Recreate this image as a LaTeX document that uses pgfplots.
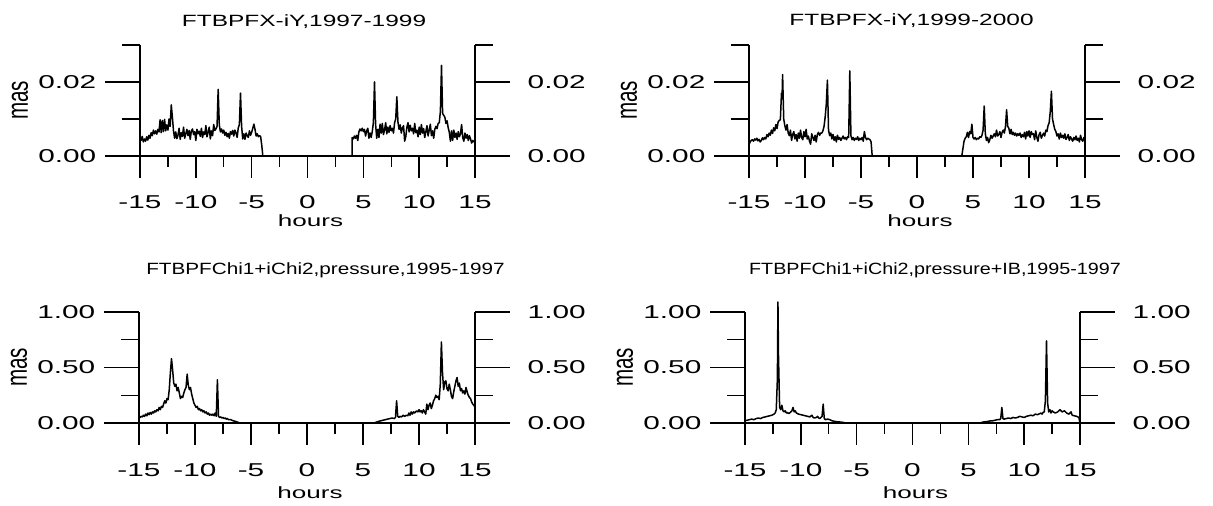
\documentclass[border=0pt]{standalone}
\usepackage{fontspec}
\usepackage{graphicx}
\usepackage{pgfplots}
\pgfplotsset{compat=1.18}
\setmainfont{Liberation Sans}
\newfontfamily\tickfont{Liberation Sans}[FakeStretch=1.6]
\newcommand\tk{\tickfont\fontsize{18.6}{20}\selectfont}
\newcommand\hr{\tickfont\fontsize{16.3}{18}\selectfont}
\newcommand\ttl[2]{\scalebox{#1}[1]{\fontsize{16.3}{18}\selectfont #2}}

\newcommand\xdeco[5]{%
\begin{scope}[shift={(#1pt,#2pt)},x=1pt,y=1pt,line width=1.4pt]
\draw (-35,0) -- ({#3+35},0);
\draw (0,0) -- (0,111) (#3,0) -- (#3,111);
\foreach \i in {0,...,6} {\draw ({\i*#3/6},0) -- ({\i*#3/6},-22);}
\foreach \i in {0,...,5} {\draw ({(\i+0.5)*#3/6},0) -- ({(\i+0.5)*#3/6},-11);}
\foreach \i/\l in {0/-15,1/-10,2/-5,3/0,4/5,5/10,6/15}
  {\node[inner sep=0pt] at ({\i*#3/6},-#4) {\tk \l};}
\node[anchor=base,inner sep=0pt] at ({#3/2+3},-#5) {\hr hours};
\node[inner sep=0pt] at (-120,55.5) {\scalebox{1.45}[1]{\rotatebox{90}{\fontsize{20.6}{22}\selectfont mas}}};
\end{scope}}

\newcommand\ydecoTop[3]{%
\begin{scope}[shift={(#1pt,#2pt)},x=1pt,y=1pt,line width=1.4pt]
\draw (-35,74) -- (0,74) (#3,74) -- ({#3+35},74);
\draw (-18,37) -- (0,37) (-18,111) -- (0,111) (#3,37) -- ({#3+18},37) (#3,111) -- ({#3+18},111);
\node[anchor=east,inner sep=0pt] at (-43,0) {\tk 0.00};
\node[anchor=east,inner sep=0pt] at (-43,74) {\tk 0.02};
\node[anchor=west,inner sep=0pt] at ({#3+52},0) {\tk 0.00};
\node[anchor=west,inner sep=0pt] at ({#3+52},74) {\tk 0.02};
\end{scope}}

\newcommand\ydecoBot[3]{%
\begin{scope}[shift={(#1pt,#2pt)},x=1pt,y=1pt,line width=1.4pt]
\draw (-35,55.5) -- (0,55.5) (#3,55.5) -- ({#3+35},55.5);
\draw (-35,111) -- (0,111) (#3,111) -- ({#3+35},111);
\draw (-18,27.75) -- (0,27.75) (-18,83.25) -- (0,83.25) (#3,27.75) -- ({#3+18},27.75) (#3,83.25) -- ({#3+18},83.25);
\node[anchor=east,inner sep=0pt] at (-43,0) {\tk 0.00};
\node[anchor=east,inner sep=0pt] at (-43,55.5) {\tk 0.50};
\node[anchor=east,inner sep=0pt] at (-43,111) {\tk 1.00};
\node[anchor=west,inner sep=0pt] at ({#3+52},0) {\tk 0.00};
\node[anchor=west,inner sep=0pt] at ({#3+52},55.5) {\tk 0.50};
\node[anchor=west,inner sep=0pt] at ({#3+52},111) {\tk 1.00};
\end{scope}}

\pgfplotsset{panel/.style={anchor=south west, scale only axis, height=111pt,
  xmin=-15, xmax=15, ymin=0, hide axis, clip=false},
  curve/.style={black, line width=1.5pt, line join=round, mark=none}}

\begin{document}
\begin{tikzpicture}
\path[use as bounding box] (0pt,0pt) rectangle (1213pt,506pt);

\begin{axis}[panel, at={(140pt,350pt)}, width=335pt, ymax=0.03]
\addplot[curve] table {
-15.0 0.0050
-14.9 0.0042
-14.8 0.0053
-14.7 0.0038
-14.6 0.0046
-14.5 0.0040
-14.4 0.0052
-14.3 0.0043
-14.2 0.0056
-14.1 0.0048
-14.0 0.0063
-13.9 0.0055
-13.8 0.0070
-13.7 0.0060
-13.6 0.0068
-13.5 0.0059
-13.4 0.0072
-13.3 0.0065
-13.2 0.0098
-13.1 0.0063
-13.0 0.0096
-12.9 0.0066
-12.8 0.0099
-12.7 0.0068
-12.6 0.0084
-12.5 0.0070
-12.4 0.0100
-12.3 0.0080
-12.2 0.0138
-12.1 0.0105
-12.0 0.0068
-11.9 0.0048
-11.8 0.0065
-11.7 0.0047
-11.6 0.0056
-11.5 0.0075
-11.4 0.0045
-11.3 0.0063
-11.2 0.0053
-11.1 0.0078
-11.0 0.0048
-10.9 0.0060
-10.8 0.0072
-10.7 0.0055
-10.6 0.0069
-10.5 0.0045
-10.4 0.0068
-10.3 0.0073
-10.2 0.0058
-10.1 0.0066
-10.0 0.0042
-9.9 0.0072
-9.8 0.0060
-9.7 0.0067
-9.6 0.0053
-9.5 0.0075
-9.4 0.0050
-9.3 0.0065
-9.2 0.0058
-9.1 0.0082
-9.0 0.0052
-8.9 0.0064
-8.8 0.0078
-8.7 0.0046
-8.6 0.0068
-8.5 0.0055
-8.4 0.0085
-8.3 0.0069
-8.2 0.0073
-8.1 0.0080
-8.0 0.0180
-7.9 0.0085
-7.8 0.0065
-7.7 0.0073
-7.6 0.0062
-7.5 0.0070
-7.4 0.0056
-7.3 0.0064
-7.2 0.0052
-7.1 0.0061
-7.0 0.0048
-6.9 0.0066
-6.8 0.0059
-6.7 0.0069
-6.6 0.0054
-6.5 0.0070
-6.4 0.0062
-6.3 0.0050
-6.2 0.0076
-6.1 0.0085
-6.0 0.0170
-5.9 0.0080
-5.8 0.0046
-5.7 0.0060
-5.6 0.0045
-5.5 0.0062
-5.4 0.0055
-5.3 0.0050
-5.2 0.0068
-5.1 0.0056
-5.0 0.0064
-4.9 0.0075
-4.8 0.0086
-4.7 0.0072
-4.6 0.0054
-4.5 0.0060
-4.4 0.0052
-4.3 0.0055
-4.2 0.0053
-4.1 0.0030
-4.0 0.0000
4.0 0.0000
4.0 0.0050
4.1 0.0046
4.2 0.0054
4.3 0.0048
4.4 0.0056
4.5 0.0042
4.6 0.0065
4.7 0.0073
4.8 0.0068
4.9 0.0075
5.0 0.0066
5.1 0.0072
5.2 0.0054
5.3 0.0068
5.4 0.0075
5.5 0.0048
5.6 0.0062
5.7 0.0050
5.8 0.0066
5.9 0.0090
6.0 0.0200
6.1 0.0085
6.2 0.0048
6.3 0.0072
6.4 0.0050
6.5 0.0086
6.6 0.0062
6.7 0.0088
6.8 0.0058
6.9 0.0070
7.0 0.0090
7.1 0.0060
7.2 0.0078
7.3 0.0064
7.4 0.0082
7.5 0.0068
7.6 0.0075
7.7 0.0062
7.8 0.0090
7.9 0.0100
8.0 0.0160
8.1 0.0092
8.2 0.0072
8.3 0.0084
8.4 0.0062
8.5 0.0076
8.6 0.0082
8.7 0.0040
8.8 0.0052
8.9 0.0078
9.0 0.0090
9.1 0.0065
9.2 0.0083
9.3 0.0068
9.4 0.0075
9.5 0.0060
9.6 0.0088
9.7 0.0063
9.8 0.0070
9.9 0.0052
10.0 0.0078
10.1 0.0058
10.2 0.0085
10.3 0.0062
10.4 0.0074
10.5 0.0050
10.6 0.0066
10.7 0.0082
10.8 0.0054
10.9 0.0070
11.0 0.0086
11.1 0.0055
11.2 0.0068
11.3 0.0048
11.4 0.0072
11.5 0.0080
11.6 0.0074
11.7 0.0088
11.8 0.0090
11.9 0.0120
12.0 0.0245
12.1 0.0115
12.2 0.0110
12.3 0.0105
12.4 0.0088
12.5 0.0095
12.6 0.0076
12.7 0.0064
12.8 0.0040
12.9 0.0068
13.0 0.0042
13.1 0.0070
13.2 0.0050
13.3 0.0062
13.4 0.0045
13.5 0.0066
13.6 0.0052
13.7 0.0060
13.8 0.0085
13.9 0.0050
14.0 0.0040
14.1 0.0062
14.2 0.0048
14.3 0.0058
14.4 0.0042
14.5 0.0055
14.6 0.0046
14.7 0.0035
14.8 0.0042
14.9 0.0038
15.0 0.0040
};
\end{axis}

\begin{axis}[panel, at={(749pt,350pt)}, width=336pt, ymax=0.03]
\addplot[curve] table {
-15.0 0.0030
-14.9 0.0038
-14.8 0.0042
-14.7 0.0044
-14.6 0.0040
-14.5 0.0046
-14.4 0.0043
-14.3 0.0048
-14.2 0.0041
-14.1 0.0045
-14.0 0.0038
-13.9 0.0042
-13.8 0.0049
-13.7 0.0044
-13.6 0.0050
-13.5 0.0046
-13.4 0.0058
-13.3 0.0052
-13.2 0.0062
-13.1 0.0056
-13.0 0.0070
-12.9 0.0061
-12.8 0.0076
-12.7 0.0068
-12.6 0.0085
-12.5 0.0074
-12.4 0.0092
-12.3 0.0096
-12.2 0.0098
-12.1 0.0170
-12.05 0.0155
-12.0 0.0220
-11.9 0.0100
-11.8 0.0082
-11.7 0.0070
-11.6 0.0085
-11.5 0.0062
-11.4 0.0055
-11.3 0.0070
-11.2 0.0042
-11.1 0.0058
-11.0 0.0066
-10.9 0.0046
-10.8 0.0058
-10.7 0.0040
-10.6 0.0062
-10.5 0.0048
-10.4 0.0070
-10.3 0.0050
-10.2 0.0044
-10.1 0.0066
-10.0 0.0052
-9.9 0.0072
-9.8 0.0046
-9.7 0.0054
-9.6 0.0040
-9.5 0.0032
-9.4 0.0060
-9.3 0.0050
-9.2 0.0042
-9.1 0.0056
-9.0 0.0038
-8.9 0.0058
-8.8 0.0064
-8.7 0.0056
-8.6 0.0062
-8.5 0.0062
-8.4 0.0068
-8.3 0.0080
-8.2 0.0105
-8.1 0.0140
-8.0 0.0205
-7.9 0.0070
-7.8 0.0055
-7.7 0.0062
-7.6 0.0046
-7.5 0.0058
-7.4 0.0042
-7.3 0.0052
-7.2 0.0038
-7.1 0.0056
-7.0 0.0045
-6.9 0.0050
-6.8 0.0042
-6.7 0.0048
-6.6 0.0054
-6.5 0.0046
-6.4 0.0050
-6.3 0.0044
-6.2 0.0052
-6.1 0.0050
-6.0 0.0230
-5.9 0.0055
-5.8 0.0044
-5.7 0.0050
-5.6 0.0042
-5.5 0.0048
-5.4 0.0045
-5.3 0.0052
-5.2 0.0042
-5.1 0.0048
-5.0 0.0044
-4.9 0.0050
-4.8 0.0040
-4.7 0.0066
-4.6 0.0050
-4.5 0.0044
-4.4 0.0048
-4.3 0.0046
-4.2 0.0044
-4.1 0.0038
-4.0 0.0000
4.0 0.0000
4.1 0.0020
4.2 0.0040
4.3 0.0048
4.4 0.0052
4.5 0.0064
4.6 0.0050
4.7 0.0066
4.8 0.0060
4.9 0.0086
5.0 0.0050
5.1 0.0046
5.2 0.0050
5.3 0.0044
5.4 0.0048
5.5 0.0046
5.6 0.0052
5.7 0.0050
5.8 0.0056
5.9 0.0070
6.0 0.0135
6.1 0.0060
6.2 0.0042
6.3 0.0050
6.4 0.0036
6.5 0.0044
6.6 0.0056
6.7 0.0048
6.8 0.0054
6.9 0.0060
7.0 0.0052
7.1 0.0070
7.2 0.0054
7.3 0.0058
7.4 0.0066
7.5 0.0050
7.6 0.0064
7.7 0.0070
7.8 0.0062
7.9 0.0080
8.0 0.0125
8.1 0.0080
8.2 0.0075
8.3 0.0060
8.4 0.0072
8.5 0.0058
8.6 0.0064
8.7 0.0056
8.8 0.0062
8.9 0.0054
9.0 0.0060
9.1 0.0056
9.2 0.0062
9.3 0.0050
9.4 0.0058
9.5 0.0052
9.6 0.0064
9.7 0.0046
9.8 0.0066
9.9 0.0054
10.0 0.0068
10.1 0.0050
10.2 0.0066
10.3 0.0058
10.4 0.0060
10.5 0.0044
10.6 0.0068
10.7 0.0050
10.8 0.0040
10.9 0.0058
11.0 0.0064
11.1 0.0048
11.2 0.0056
11.3 0.0062
11.4 0.0054
11.5 0.0070
11.6 0.0066
11.7 0.0082
11.8 0.0090
11.9 0.0120
12.0 0.0175
12.1 0.0100
12.2 0.0085
12.3 0.0072
12.4 0.0066
12.5 0.0054
12.6 0.0060
12.7 0.0046
12.8 0.0062
12.9 0.0050
13.0 0.0056
13.1 0.0048
13.2 0.0060
13.3 0.0045
13.4 0.0050
13.5 0.0058
13.6 0.0042
13.7 0.0052
13.8 0.0046
13.9 0.0040
14.0 0.0050
14.1 0.0044
14.2 0.0054
14.3 0.0042
14.4 0.0048
14.5 0.0038
14.6 0.0056
14.7 0.0044
14.8 0.0040
14.9 0.0050
15.0 0.0048
};
\end{axis}

\begin{axis}[panel, at={(139pt,83pt)}, width=336pt, ymax=1]
\addplot[curve] table {
-15.0 0.070
-14.9 0.050
-14.8 0.060
-14.7 0.055
-14.6 0.070
-14.5 0.060
-14.4 0.080
-14.3 0.065
-14.2 0.090
-14.1 0.075
-14.0 0.095
-13.9 0.080
-13.8 0.100
-13.7 0.090
-13.6 0.110
-13.5 0.100
-13.4 0.120
-13.3 0.110
-13.2 0.140
-13.1 0.120
-13.0 0.150
-12.9 0.140
-12.8 0.170
-12.7 0.200
-12.6 0.180
-12.5 0.220
-12.4 0.210
-12.3 0.300
-12.2 0.450
-12.1 0.580
-12.0 0.480
-11.9 0.360
-11.8 0.330
-11.7 0.350
-11.6 0.290
-11.5 0.320
-11.4 0.270
-11.3 0.220
-11.2 0.240
-11.1 0.230
-11.0 0.270
-10.9 0.300
-10.8 0.320
-10.7 0.440
-10.6 0.340
-10.5 0.300
-10.4 0.320
-10.3 0.260
-10.2 0.220
-10.1 0.180
-10.0 0.160
-9.9 0.140
-9.8 0.150
-9.7 0.120
-9.6 0.130
-9.5 0.110
-9.4 0.120
-9.3 0.100
-9.2 0.110
-9.1 0.090
-9.0 0.100
-8.9 0.080
-8.8 0.090
-8.7 0.070
-8.6 0.080
-8.5 0.070
-8.4 0.080
-8.3 0.065
-8.2 0.090
-8.1 0.060
-8.0 0.390
-7.9 0.060
-7.8 0.050
-7.7 0.055
-7.6 0.045
-7.5 0.050
-7.4 0.040
-7.3 0.045
-7.2 0.035
-7.1 0.040
-7.0 0.030
-6.8 0.030
-6.6 0.020
-6.4 0.015
-6.2 0.008
-6.0 0.000
6.0 0.000
6.2 0.008
6.4 0.015
6.6 0.020
6.8 0.025
7.0 0.030
7.2 0.035
7.4 0.040
7.6 0.045
7.8 0.040
7.9 0.050
8.0 0.200
8.1 0.060
8.2 0.050
8.3 0.060
8.4 0.055
8.5 0.060
8.6 0.070
8.7 0.060
8.8 0.065
8.9 0.070
9.0 0.065
9.1 0.090
9.2 0.070
9.3 0.100
9.4 0.080
9.5 0.100
9.6 0.090
9.7 0.100
9.8 0.110
9.9 0.100
10.0 0.120
10.1 0.100
10.2 0.110
10.3 0.090
10.4 0.120
10.5 0.100
10.6 0.080
10.7 0.170
10.8 0.120
10.9 0.160
11.0 0.180
11.1 0.130
11.2 0.160
11.3 0.200
11.4 0.220
11.5 0.250
11.6 0.230
11.7 0.240
11.8 0.210
11.9 0.350
12.0 0.730
12.1 0.450
12.2 0.300
12.3 0.370
12.4 0.380
12.5 0.310
12.6 0.290
12.7 0.350
12.8 0.300
12.9 0.240
13.0 0.220
13.1 0.280
13.2 0.330
13.3 0.380
13.4 0.410
13.5 0.330
13.6 0.360
13.7 0.290
13.8 0.310
13.9 0.270
14.0 0.290
14.1 0.260
14.2 0.320
14.3 0.280
14.4 0.250
14.5 0.230
14.6 0.220
14.7 0.190
14.8 0.170
14.9 0.160
15.0 0.140
};
\end{axis}

\begin{axis}[panel, at={(745pt,83pt)}, width=335pt, ymax=1]
\addplot[curve] table {
-15.0 0.020
-14.8 0.025
-14.6 0.030
-14.4 0.035
-14.2 0.030
-14.0 0.040
-13.8 0.045
-13.6 0.040
-13.4 0.050
-13.2 0.055
-13.0 0.060
-12.8 0.065
-12.6 0.070
-12.4 0.080
-12.3 0.090
-12.2 0.120
-12.1 0.400
-12.05 1.090
-12.0 0.600
-11.9 0.140
-11.8 0.120
-11.7 0.160
-11.6 0.110
-11.5 0.100
-11.4 0.110
-11.3 0.090
-11.2 0.095
-11.1 0.085
-11.0 0.090
-10.9 0.100
-10.8 0.110
-10.7 0.140
-10.6 0.100
-10.5 0.110
-10.4 0.090
-10.3 0.085
-10.2 0.080
-10.0 0.075
-9.8 0.070
-9.6 0.065
-9.4 0.060
-9.2 0.055
-9.0 0.070
-8.9 0.050
-8.8 0.045
-8.6 0.050
-8.5 0.060
-8.4 0.045
-8.3 0.040
-8.2 0.050
-8.1 0.060
-8.0 0.170
-7.9 0.040
-7.8 0.030
-7.6 0.035
-7.4 0.030
-7.2 0.020
-7.0 0.015
-6.8 0.012
-6.6 0.010
-6.4 0.008
-6.2 0.005
-6.0 0.000
6.0 0.000
6.2 0.005
6.4 0.010
6.6 0.012
6.8 0.015
7.0 0.020
7.2 0.020
7.4 0.025
7.6 0.030
7.8 0.030
7.9 0.040
8.0 0.140
8.1 0.040
8.2 0.035
8.4 0.040
8.6 0.045
8.8 0.040
9.0 0.050
9.2 0.045
9.4 0.050
9.6 0.060
9.8 0.055
10.0 0.050
10.2 0.060
10.4 0.065
10.6 0.070
10.8 0.065
11.0 0.080
11.2 0.075
11.4 0.085
11.5 0.090
11.6 0.080
11.7 0.095
11.8 0.100
11.9 0.200
12.0 0.740
12.1 0.180
12.2 0.100
12.3 0.120
12.4 0.090
12.5 0.110
12.6 0.100
12.8 0.090
13.0 0.100
13.2 0.120
13.3 0.110
13.4 0.100
13.6 0.110
13.8 0.090
14.0 0.080
14.2 0.100
14.3 0.070
14.5 0.065
14.7 0.060
14.9 0.050
15.0 0.000
};
\end{axis}

\xdeco{140}{350}{335}{46}{71}
\ydecoTop{140}{350}{335}
\xdeco{749}{350}{336}{46}{71}
\ydecoTop{749}{350}{336}
\xdeco{139}{83}{336}{47}{76}
\ydecoBot{139}{83}{336}
\xdeco{745}{83}{335}{47}{76}
\ydecoBot{745}{83}{335}

\node[anchor=base,inner sep=0pt] at (304pt,479.5pt) {\ttl{1.5}{FTBPFX-iY,1997-1999}};
\node[anchor=base,inner sep=0pt] at (911.5pt,480.5pt) {\ttl{1.5}{FTBPFX-iY,1999-2000}};
\node[anchor=base,inner sep=0pt] at (325.5pt,231pt) {\ttl{1.27}{FTBPFChi1+iChi2,pressure,1995-1997}};
\node[anchor=base,inner sep=0pt] at (935pt,231pt) {\ttl{1.21}{FTBPFChi1+iChi2,pressure+IB,1995-1997}};
\end{tikzpicture}
\end{document}
